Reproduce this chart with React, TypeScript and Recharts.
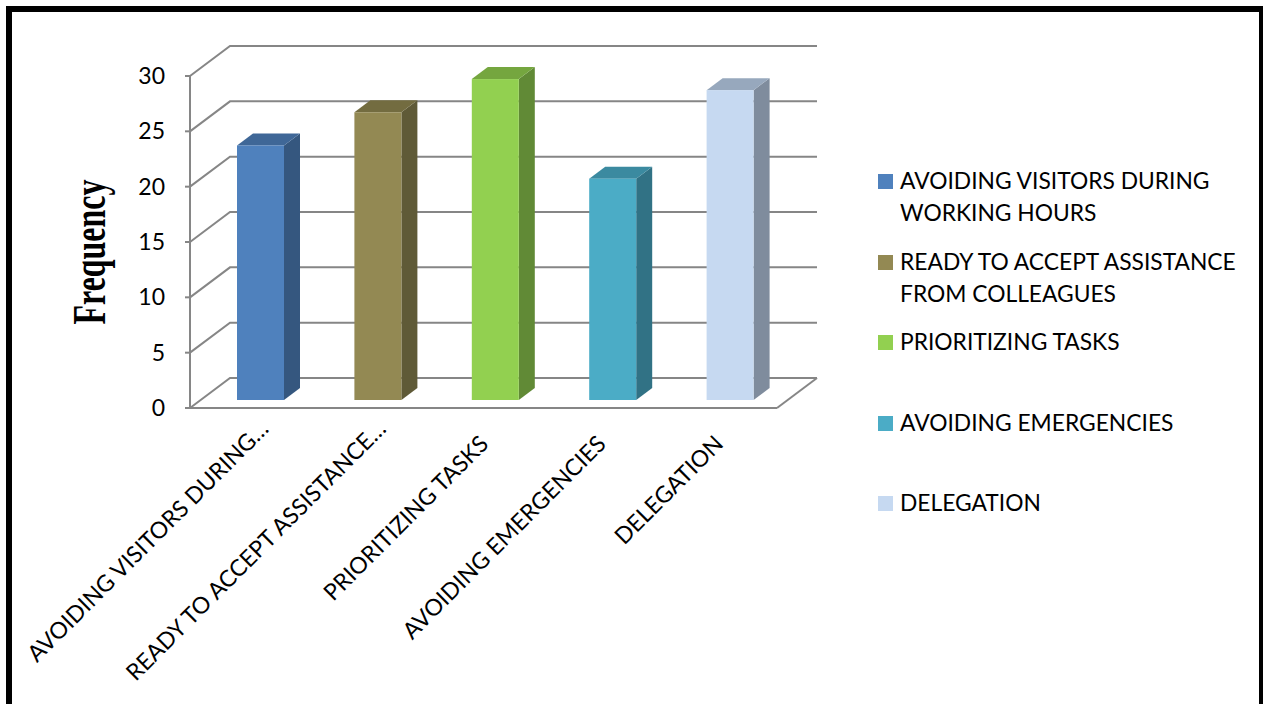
import React from "react";
import { Bar, BarChart, CartesianGrid, Legend, XAxis, YAxis } from "recharts";

const categories = [
  "AVOIDING VISITORS DURING WORKING HOURS",
  "READY TO ACCEPT ASSISTANCE FROM COLLEAGUES",
  "PRIORITIZING TASKS",
  "AVOIDING EMERGENCIES",
  "DELEGATION",
];
const tickLabels = [
  "AVOIDING VISITORS DURING…",
  "READY TO ACCEPT ASSISTANCE…",
  "PRIORITIZING TASKS",
  "AVOIDING EMERGENCIES",
  "DELEGATION",
];
const frequency = [23, 26, 29, 20, 28];
const yTicks = [0, 5, 10, 15, 20, 25, 30];

const legendLines = [
  ["AVOIDING VISITORS DURING", "WORKING HOURS"],
  ["READY TO ACCEPT ASSISTANCE", "FROM COLLEAGUES"],
  ["PRIORITIZING TASKS"],
  ["AVOIDING EMERGENCIES"],
  ["DELEGATION"],
];
const frontColors = ["#4f81bd", "#938953", "#92d050", "#4bacc6", "#c6d9f1"];
const sideColors = ["#35577f", "#5f5a37", "#618a36", "#317285", "#7f8c9d"];
const topColors = ["#3f6797", "#736c40", "#75a63f", "#3b8aa0", "#97a8bd"];

const data = categories.map((name, i) => ({
  name,
  label: tickLabels[i],
  frequency: frequency[i],
}));

const FONT = "Lato, sans-serif";
const GRID = "#868686";
// offset of the back wall and of the bars inside the floor
const WALL_DX = 40;
const WALL_DY = -30;
const BAR_DX = 12;
const BAR_DY = -8;
const BAR_DEPTH_X = 16;
const BAR_DEPTH_Y = -12;
const BOTTOM = 408;

function WallLine(props: any) {
  const { x1, x2, y1 } = props;
  const bx = x1 + WALL_DX;
  const by = y1 + WALL_DY;
  return (
    <g fill="none" stroke={GRID} strokeWidth={2}>
      <path d={`M${x1},${y1} L${bx},${by} L${x2 + WALL_DX},${by}`} />
      {y1 >= BOTTOM - 1 && <path d={`M${x2},${y1} L${x2 + WALL_DX},${by}`} />}
    </g>
  );
}

function Bar3D(props: any) {
  const { x, y, width, height, index } = props;
  const l = x + BAR_DX;
  const r = l + width;
  const t = y + BAR_DY;
  const b = t + height;
  const dx = BAR_DEPTH_X;
  const dy = BAR_DEPTH_Y;
  return (
    <g>
      <path d={`M${r},${t} L${r + dx},${t + dy} L${r + dx},${b + dy} L${r},${b} Z`} fill={sideColors[index]} />
      <path d={`M${l},${t} L${l + dx},${t + dy} L${r + dx},${t + dy} L${r},${t} Z`} fill={topColors[index]} />
      <rect x={l} y={t} width={width} height={height} fill={frontColors[index]} />
    </g>
  );
}

function SlantedTick(props: any) {
  const { x, y, payload } = props;
  // untruncated labels sit further down the slant than the cut-off ones
  const cut = String(payload.value).endsWith("…");
  const px = cut ? x + 15 : x;
  const py = cut ? y + 8 : y + 23;
  return (
    <text
      transform={`translate(${px},${py}) rotate(-45)`}
      textAnchor="end"
      dominantBaseline="central"
      fontFamily={FONT}
      fontSize={23}
      fill="#000"
    >
      {payload.value}
    </text>
  );
}

function FrequencyTitle() {
  return (
    <text
      transform="translate(105,252) rotate(-90)"
      textAnchor="middle"
      fontFamily="'Liberation Serif', serif"
      fontWeight="bold"
      fontSize={46}
      textLength={145}
      lengthAdjust="spacingAndGlyphs"
      fill="#000"
    >
      Frequency
    </text>
  );
}

function CategoryLegend() {
  return (
    <div style={{ position: "relative", fontFamily: FONT, fontSize: 22.8, lineHeight: "32px", color: "#000" }}>
      {legendLines.map((lines, i) => (
        <div key={i} style={{ position: "absolute", left: 0, top: i * 80.5, whiteSpace: "nowrap" }}>
          <span
            style={{ position: "absolute", left: 0, top: 9, width: 15, height: 15, background: frontColors[i] }}
          />
          <div style={{ marginLeft: 22, marginTop: -1 }}>
            {lines.map((line) => (
              <div key={line}>{line}</div>
            ))}
          </div>
        </div>
      ))}
    </div>
  );
}

export default function App() {
  return (
    <div style={{ position: "fixed", left: 0, top: 0, width: 1263, height: 704, overflow: "hidden", background: "#fff" }}>
      {/* black page frame, runs past the bottom edge */}
      <div
        style={{
          position: "absolute",
          left: 6,
          top: 6,
          width: 1258,
          height: 720,
          boxSizing: "border-box",
          border: "6px solid #000",
          borderRightWidth: 5,
        }}
      />
      <BarChart
        width={1263}
        height={704}
        data={data}
        barSize={47}
        margin={{ top: 76, right: 486, bottom: 0, left: 0 }}
        style={{ position: "absolute", left: 0, top: 0 }}
      >
        <CartesianGrid vertical={false} horizontal={(p: any) => <WallLine key={p.key} {...p} />} />
        <XAxis
          dataKey="label"
          interval={0}
          height={296}
          tick={SlantedTick}
          tickLine={false}
          axisLine={{ stroke: GRID, strokeWidth: 2 }}
        />
        <YAxis
          width={190}
          domain={[0, 30]}
          ticks={yTicks}
          interval={0}
          tickSize={5}
          tickMargin={20}
          tick={{ fontFamily: FONT, fontSize: 23, fill: "#000" }}
          tickLine={{ stroke: GRID, strokeWidth: 2 }}
          axisLine={{ stroke: GRID, strokeWidth: 2 }}
          label={{ content: FrequencyTitle }}
        />
        <Bar dataKey="frequency" isAnimationActive={false} shape={Bar3D} />
        <Legend
          layout="vertical"
          align="center"
          verticalAlign="middle"
          content={CategoryLegend}
          wrapperStyle={{ position: "absolute", left: 878, top: 165, width: 370, height: 370 }}
        />
      </BarChart>
    </div>
  );
}
